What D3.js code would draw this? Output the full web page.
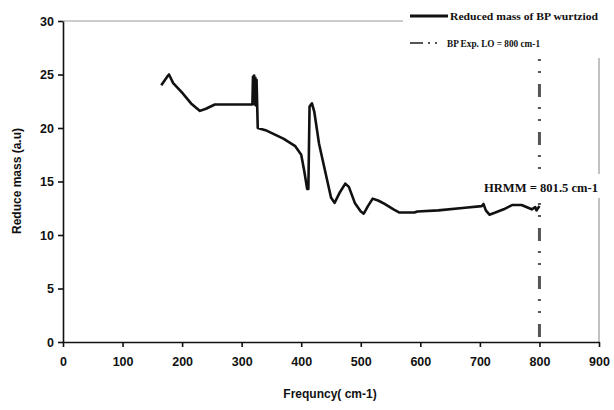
<!DOCTYPE html>
<html><head><meta charset="utf-8">
<script src="https://cdn.jsdelivr.net/npm/d3@7"></script>
<style>body{margin:0;background:#fff}svg{display:block}</style>
</head><body><svg id="c" width="614" height="410"></svg>
<script>
const freq = [165,170,175,178,185,200,215,230,240,255,318,319,320,321,322,323,324,325,327,340,370,390,400,405,410,412,414,418,422,430,440,450,456,465,474,480,490,500,505,512,520,530,540,555,565,590,595,630,675,703,706,710,716,726,740,754,770,787,793,795,800];
const mass = [24.0,24.4,24.8,25.0,24.2,23.3,22.3,21.6,21.8,22.2,22.2,24.8,22.3,24.9,22.2,24.7,22.1,24.5,20.0,19.8,19.0,18.3,17.5,16.0,14.3,14.3,22.0,22.3,21.5,18.5,16.0,13.5,13.0,14.0,14.8,14.5,13.0,12.2,12.0,12.7,13.4,13.2,12.9,12.4,12.1,12.1,12.2,12.3,12.55,12.7,12.9,12.3,11.9,12.1,12.4,12.8,12.8,12.4,12.6,12.3,12.7];
const xTicks = [0,100,200,300,400,500,600,700,800,900];
const yTicks = [0,5,10,15,20,25,30];
const expLO = 800;
const legendLabels = ["Reduced mass of BP wurtziod","BP Exp. LO = 800 cm-1"];
const hrmmLabel = "HRMM = 801.5 cm-1";

const svg = d3.select("#c");
const L=63, R=599, T=21, B=342;
const x = d3.scaleLinear().domain([0,900]).range([L,R]);
const y = d3.scaleLinear().domain([0,30]).range([B,T]);

// frame (gray)
svg.append("line").attr("x1",L).attr("x2",403).attr("y1",T).attr("y2",T).attr("stroke","#999").attr("stroke-width",1.2);
svg.append("line").attr("x1",x(900)).attr("x2",x(900)).attr("y1",58).attr("y2",B).attr("stroke","#999").attr("stroke-width",1.2);

// LO vertical line
const dash = "2,10,2,11,13,10";
svg.append("line").attr("x1",x(expLO)).attr("x2",x(expLO)).attr("y1",59).attr("y2",B)
  .attr("stroke","#555").attr("stroke-width",3).attr("stroke-dasharray",dash);

// data line
svg.append("path").datum(freq.map((f,i)=>[f,mass[i]]))
  .attr("d",d3.line().x(d=>x(d[0])).y(d=>y(d[1])))
  .attr("fill","none").attr("stroke","#111").attr("stroke-width",2.6).attr("stroke-linejoin","round");

// axes
const xa = svg.append("g").attr("transform",`translate(0,${B})`)
  .call(d3.axisBottom(x).tickValues(xTicks).tickSize(5).tickSizeOuter(0).tickPadding(10));
const ya = svg.append("g").attr("transform",`translate(${L},0)`)
  .call(d3.axisLeft(y).tickValues(yTicks).tickSize(5).tickSizeOuter(0).tickPadding(4));
[xa,ya].forEach(a=>{
  a.select(".domain").attr("stroke","#111").attr("stroke-width",1.6);
  a.selectAll(".tick line").attr("stroke","#111").attr("stroke-width",1.6);
  a.selectAll("text").attr("font-family","Liberation Sans, Arial, sans-serif").attr("font-size",12.5).attr("font-weight","bold").attr("fill","#111");
});

// axis titles
svg.append("text").attr("x",330).attr("y",398).attr("text-anchor","middle")
  .attr("font-family","Liberation Sans, Arial, sans-serif").attr("font-size",12).attr("font-weight","bold").attr("fill","#111")
  .text("Frequncy( cm-1)");
svg.append("text").attr("transform","translate(21,181) rotate(-90)").attr("text-anchor","middle")
  .attr("font-family","Liberation Sans, Arial, sans-serif").attr("font-size",12).attr("font-weight","bold").attr("fill","#111")
  .text("Reduce mass (a.u)");

// legend
const lg = svg.append("g");
lg.append("line").attr("x1",410).attr("x2",448).attr("y1",16).attr("y2",16).attr("stroke","#111").attr("stroke-width",2.8);
lg.append("line").attr("x1",410).attr("x2",446).attr("y1",43).attr("y2",43).attr("stroke","#555").attr("stroke-width",2).attr("stroke-dasharray","13,5,2,5,2,9");
lg.append("text").attr("x",450).attr("y",20).attr("font-family","Liberation Serif, Times New Roman, serif").attr("font-size",11).attr("font-weight","bold").attr("fill","#111").attr("textLength",148).attr("lengthAdjust","spacingAndGlyphs").text(legendLabels[0]);
lg.append("text").attr("x",447).attr("y",47).attr("font-family","Liberation Serif, Times New Roman, serif").attr("font-size",11).attr("font-weight","bold").attr("fill","#111").attr("textLength",93).attr("lengthAdjust","spacingAndGlyphs").text(legendLabels[1]);

// HRMM annotation
svg.append("rect").attr("x",482).attr("y",174).attr("width",120).attr("height",24).attr("fill","#fff");
svg.append("text").attr("x",484).attr("y",192).attr("font-family","Liberation Serif, Times New Roman, serif").attr("font-size",12.5).attr("font-weight","bold").attr("fill","#111").attr("textLength",114).attr("lengthAdjust","spacingAndGlyphs").text(hrmmLabel);
</script></body></html>
